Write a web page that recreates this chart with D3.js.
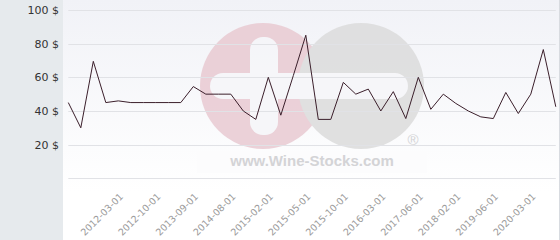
<!DOCTYPE html>
<meta charset="utf-8">
<html lang="en">
<head>
    <title>Price history</title>
    <script src="https://d3js.org/d3.v7.min.js"></script>
    <style>
        body { margin: 0; background: #e6eaed; }
        svg { display: block; }
    </style>
</head>
<body>
<div id="my_dataviz"></div>
<script>

// dates of each price point (only every third one gets a label)
var dates = [
    "2011-09-01", "2011-11-01", "2011-12-01", "2012-01-01", "2012-03-01",
    "2012-05-01", "2012-08-01", "2012-10-01", "2013-01-01", "2013-05-01",
    "2013-09-01", "2014-01-01", "2014-05-01", "2014-08-01", "2014-11-01",
    "2015-01-01", "2015-02-01", "2015-03-01", "2015-04-01", "2015-05-01",
    "2015-06-01", "2015-08-01", "2015-10-01", "2015-12-01", "2016-01-01",
    "2016-03-01", "2016-06-01", "2016-11-01", "2017-06-01", "2017-08-01",
    "2017-11-01", "2018-02-01", "2018-06-01", "2018-11-01", "2019-06-01",
    "2019-09-01", "2019-12-01", "2020-03-01", "2020-05-01", "2020-08-01"
];

// price in $
var prices = [
    45, 30, 69.5, 45, 46, 45, 45, 45, 45, 45,
    54.5, 50, 50, 50, 40, 35, 60, 37.5, 61, 85,
    35, 35, 57, 50, 53, 40, 51.5, 35.5, 60, 41,
    50, 44.5, 40, 36.5, 35.5, 51, 38.5, 50, 76.5, 42.5
];

var tickLabels = ["2012-03-01", "2012-10-01", "2013-09-01", "2014-08-01",
    "2015-02-01", "2015-05-01", "2015-10-01", "2016-03-01",
    "2017-06-01", "2018-02-01", "2019-06-01", "2020-03-01"];

var yTicks = [0, 20, 40, 60, 80, 100];

var W = 560, H = 240;
var plotLeft = 68.3, plotRight = 555.8, plotTop = 10, plotBottom = 178.3;

var svg = d3.select("#my_dataviz")
  .append("svg")
    .attr("width", W)
    .attr("height", H);

// panel background with soft gradient
var grad = svg.append("defs").append("linearGradient")
    .attr("id", "bg").attr("x1", 0).attr("y1", 0).attr("x2", 0).attr("y2", 1);
grad.append("stop").attr("offset", "0%").attr("stop-color", "#f1f2f7");
grad.append("stop").attr("offset", "80%").attr("stop-color", "#ffffff");

svg.append("rect")
    .attr("x", 0).attr("y", 0).attr("width", W).attr("height", H)
    .attr("fill", "#e6eaed");
svg.append("rect")
    .attr("x", 63).attr("y", 0).attr("width", 496).attr("height", H)
    .attr("fill", "url(#bg)");
svg.append("line")
    .attr("x1", 559.5).attr("x2", 559.5).attr("y1", 0).attr("y2", H)
    .attr("stroke", "#d8dbe0");

// watermark
var wm = svg.append("g").attr("opacity", 0.85);
wm.append("circle").attr("cx", 263).attr("cy", 86).attr("r", 63).attr("fill", "#e9cad2");
wm.append("circle").attr("cx", 361).attr("cy", 86).attr("r", 63).attr("fill", "#dcdcdc");
wm.append("rect").attr("x", 250).attr("y", 37).attr("width", 28).attr("height", 98)
    .attr("rx", 13).attr("fill", "#f6f6f9");
wm.append("rect").attr("x", 210).attr("y", 73).attr("width", 198).attr("height", 26)
    .attr("rx", 13).attr("fill", "#f6f6f9");
wm.append("rect").attr("x", 197).attr("y", 151).attr("width", 230).attr("height", 22)
    .attr("fill", "#fcfcfd");
wm.append("text").attr("x", 312).attr("y", 166)
    .attr("text-anchor", "middle")
    .style("font-family", "Liberation Sans, Arial, sans-serif")
    .style("font-weight", "bold").style("font-size", "15px")
    .attr("fill", "#cdcdd0")
    .text("www.Wine-Stocks.com");
wm.append("text").attr("x", 413).attr("y", 145)
    .attr("text-anchor", "middle")
    .style("font-family", "Liberation Sans, Arial, sans-serif")
    .style("font-size", "15px")
    .attr("fill", "#cdcdd0")
    .text("®");

// scales
var x = d3.scalePoint()
    .domain(dates)
    .range([plotLeft, plotRight]);

var y = d3.scaleLinear()
    .domain([0, 100])
    .range([plotBottom, plotTop]);

// grid lines
svg.append("g")
  .selectAll("line")
  .data(yTicks)
  .enter()
  .append("line")
    .attr("x1", plotLeft).attr("x2", plotRight)
    .attr("y1", function(d) { return Math.round(y(d)) + 0.5; })
    .attr("y2", function(d) { return Math.round(y(d)) + 0.5; })
    .attr("stroke", "#e1e2e6");

// y axis labels
var yAxis = svg.append("g")
    .attr("transform", "translate(63,0)")
    .call(d3.axisLeft(y).tickValues(yTicks.filter(function(d) { return d > 0; }))
        .tickSize(0).tickPadding(4).tickFormat(function(d) { return d + " $"; }));
yAxis.select(".domain").remove();
yAxis.selectAll("text")
    .style("font-family", "DejaVu Sans, sans-serif")
    .style("font-size", "11px")
    .attr("fill", "#333");

// x axis labels, rotated
var xAxis = svg.append("g")
    .attr("transform", "translate(0," + plotBottom + ")")
    .call(d3.axisBottom(x).tickValues(tickLabels).tickSize(0).tickFormat(function(d) { return d; }));
xAxis.select(".domain").remove();
xAxis.selectAll("text")
    .style("font-family", "DejaVu Sans, sans-serif")
    .style("font-size", "9.5px")
    .attr("fill", "#9a9a9a")
    .attr("text-anchor", "end")
    .attr("dy", 0)
    .attr("y", 0)
    .attr("transform", "translate(5,19) rotate(-45)");

// price line
var line = d3.line()
    .x(function(d, i) { return x(dates[i]); })
    .y(function(d) { return y(d); });

svg.append("path")
    .datum(prices)
    .attr("fill", "none")
    .attr("stroke", "#3b1f2b")
    .attr("stroke-width", 1)
    .attr("d", line);

</script>
</body>
</html>
